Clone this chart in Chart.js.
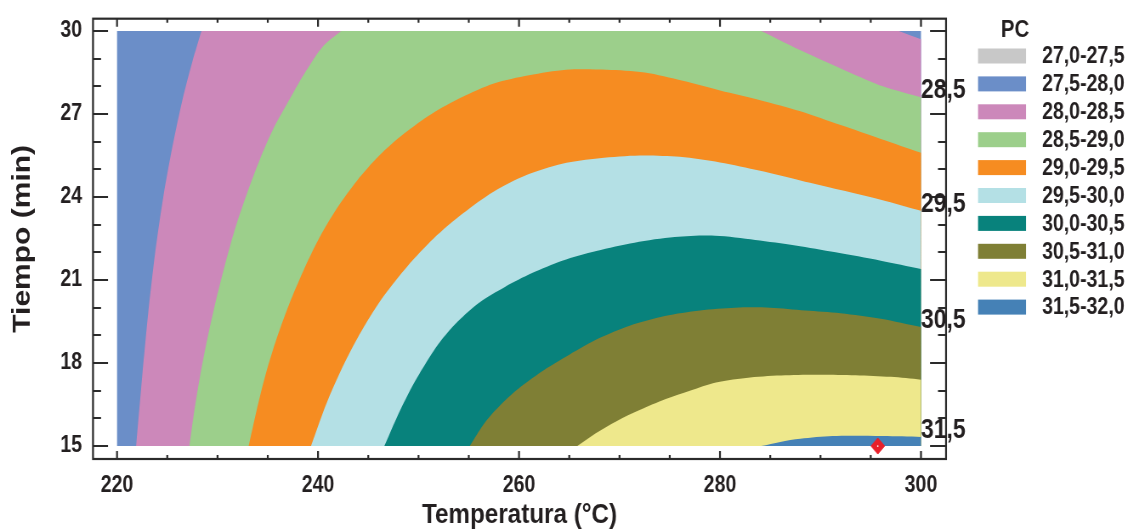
<!DOCTYPE html>
<html>
<head>
<meta charset="utf-8">
<script src="https://cdn.jsdelivr.net/npm/chart.js@4/dist/chart.umd.min.js"></script>
<style>
  html, body { margin: 0; padding: 0; background: #fff; }
  #outer { width: 1127px; height: 529px; overflow: hidden; }
  /* el original esta comprimido en horizontal */
  #wrap { width: 1326px; height: 529px; transform: scaleX(0.85); transform-origin: 0 0; }
</style>
</head>
<body>
<div id="outer"><div id="wrap"><canvas id="pcChart"></canvas></div></div>
<script>
const SX = 0.85; // compresion horizontal

// ejes
const xTicks = [220, 240, 260, 280, 300];
const yTicks = [15, 18, 21, 24, 27, 30];
const tempRange = [220, 300];
const timeRange = [15, 30];

// leyenda PC
const bandLabels = ['27,0-27,5', '27,5-28,0', '28,0-28,5', '28,5-29,0', '29,0-29,5',
                    '29,5-30,0', '30,0-30,5', '30,5-31,0', '31,0-31,5', '31,5-32,0'];
const bandColors = ['#c8c8c8', '#6b8ec8', '#cc88ba', '#9ccf8b', '#f68c21',
                    '#b4e0e5', '#08827c', '#7f7f35', '#eee88c', '#4581b6'];

// contornos [temperatura, tiempo]
const c280 = [[221.9, 15], [222.5, 17.5], [223.1, 19.8], [223.8, 22.0], [224.6, 24.0],
              [225.5, 25.8], [226.5, 27.5], [227.5, 28.9], [228.4, 30]];
const c280b = [[297.8, 30], [300, 29.7]];
const c285 = [[227.2, 15], [227.7, 16.3], [228.3, 17.6], [229.0, 18.9], [229.8, 20.2],
              [230.7, 21.5], [231.7, 22.8], [232.9, 24.1], [234.2, 25.35], [235.6, 26.5],
              [237.2, 27.55], [238.8, 28.55], [240.5, 29.45], [242.3, 30]];
const c285b = [[284.1, 30], [288.6, 29.2], [292.9, 28.5], [296.2, 28.0], [300, 27.6]];
const c290 = [[233.1, 15], [233.9, 16.3], [234.8, 17.6], [235.9, 18.9], [237.1, 20.1],
              [238.5, 21.3], [240.1, 22.5], [241.9, 23.6], [243.9, 24.6], [246.1, 25.5],
              [248.6, 26.3], [251.3, 27.0], [254.3, 27.6], [257.5, 28.1], [261, 28.4],
              [264.7, 28.6], [268.7, 28.6], [272.5, 28.5], [276.3, 28.2], [280, 27.85],
              [284, 27.5], [288, 27.1], [292, 26.6], [296, 26.1], [300, 25.6]];
const c295 = [[239.3, 15], [240.8, 16.5], [242.5, 17.9], [244.4, 19.2], [246.5, 20.4],
              [248.9, 21.5], [251.5, 22.5], [254.4, 23.4], [257.5, 24.2], [260.8, 24.8],
              [264.3, 25.2], [268, 25.4], [272, 25.5], [276, 25.45], [280, 25.25],
              [284, 24.95], [288, 24.6], [292, 24.25], [296, 23.9], [300, 23.5]];
const c300 = [[246.6, 15], [247.8, 16], [249.0, 16.9], [250.4, 17.8], [252.0, 18.7],
              [253.9, 19.5], [256.1, 20.2], [258.6, 20.75], [261.3, 21.25], [264.3, 21.7],
              [267.7, 22.05], [271.5, 22.35], [275.5, 22.55], [279.5, 22.6], [283.5, 22.45],
              [287.5, 22.25], [291.5, 22.0], [296, 21.7], [300, 21.4]];
const c305 = [[255.1, 15], [256.5, 15.8], [258.2, 16.5], [260.2, 17.15], [262.5, 17.75],
              [265, 18.3], [268, 18.9], [271, 19.35], [274.5, 19.7], [278, 19.9],
              [281.5, 20], [285, 20], [288.5, 19.9], [292, 19.8], [296, 19.6], [300, 19.3]];
const c310 = [[265.8, 15], [267.6, 15.45], [269.7, 15.9], [272, 16.3], [274.6, 16.7],
              [277, 17.0], [279.6, 17.3], [283, 17.48], [286.5, 17.56], [290, 17.58],
              [293.5, 17.56], [297, 17.5], [300, 17.4]];
const c315 = [[284.1, 15], [286, 15.15], [288, 15.26], [291.2, 15.36], [296.2, 15.36], [300, 15.33]];

// niveles: region PC >= nivel, en orden creciente
const levelLines = [[c280, c280b], [c285, c285b], [c290], [c295], [c300], [c305], [c310], [c315]];
const levelBand = [2, 3, 4, 5, 6, 7, 8, 9];

// etiquetas de contorno a la derecha
const contourLabels = ['28,5', '29,5', '30,5', '31,5'];
const contourLabelLines = [c285b, c295, c305, c315];

// punto optimo
const optTemp = 295.7;
const optTime = 15.0;

const FONT = "'Liberation Sans', Arial, sans-serif";
const INK = '#231f20';

function pt(p) { return {x: p[0], y: p[1]}; }

function regionPoints(pieces) {
    const pts = [{x: tempRange[1], y: timeRange[0]}];
    pieces.forEach(piece => {
        pts.push(pt(piece[0]));
        piece.forEach(p => pts.push(pt(p)));
        pts.push(pt(piece[piece.length - 1]));
    });
    pts.push({x: tempRange[1], y: timeRange[0]});
    return pts;
}

const datasets = [];
// marcador (arriba del todo)
datasets.push({
    data: [{x: optTemp, y: optTime}], showLine: false,
    pointStyle: 'circle', pointRadius: 0.9, pointBackgroundColor: '#ffffff', pointBorderWidth: 0
});
datasets.push({
    data: [{x: optTemp, y: optTime}], showLine: false,
    pointStyle: 'rectRot', pointRadius: 8, pointBackgroundColor: '#e8202a',
    pointBorderColor: '#e8202a', pointBorderWidth: 1
});
for (let i = levelLines.length - 1; i >= 0; i--) {
    datasets.push({
        data: regionPoints(levelLines[i]),
        backgroundColor: bandColors[levelBand[i]],
        fill: 'shape', borderWidth: 0, pointRadius: 0, tension: 0.3
    });
}
// fondo 27,5-28,0
datasets.push({
    data: [pt([tempRange[0], timeRange[0]]), pt([tempRange[0], timeRange[1]]),
           pt([tempRange[1], timeRange[1]]), pt([tempRange[1], timeRange[0]])],
    backgroundColor: bandColors[1], fill: 'shape', borderWidth: 0, pointRadius: 0, tension: 0
});

const framePlugin = {
    id: 'frameAndLegend',
    afterDraw(chart) {
        const ctx = chart.ctx;
        const a = chart.chartArea;
        const xs = chart.scales.x, ys = chart.scales.y;
        ctx.save();
        ctx.strokeStyle = '#2b2b2b';
        ctx.lineWidth = 2.2;
        ctx.strokeRect(a.left, a.top, a.right - a.left, a.bottom - a.top);
        ctx.beginPath();
        for (let v = tempRange[0]; v <= tempRange[1]; v += 5) {
            const px = xs.getPixelForValue(v);
            const len = (v - tempRange[0]) % 20 === 0 ? 8 : 4;
            ctx.moveTo(px, a.top); ctx.lineTo(px, a.top + len);
            ctx.moveTo(px, a.bottom); ctx.lineTo(px, a.bottom - len);
        }
        ctx.stroke();
        ctx.lineWidth = 2;
        ctx.beginPath();
        for (let v = timeRange[0]; v <= timeRange[1]; v += 1) {
            const py = Math.round(ys.getPixelForValue(v));
            const major = (v - timeRange[0]) % 3 === 0;
            ctx.moveTo(a.left, py); ctx.lineTo(a.left + (major ? 15 : 8) / SX, py);
            ctx.moveTo(a.right, py); ctx.lineTo(a.right - (major ? 16 : 8) / SX, py);
        }
        ctx.stroke();

        // etiquetas de contorno
        ctx.fillStyle = INK;
        ctx.font = 'bold 27px ' + FONT;
        ctx.textAlign = 'left';
        ctx.textBaseline = 'alphabetic';
        contourLabels.forEach((t, i) => {
            const line = contourLabelLines[i];
            const end = line[line.length - 1];
            ctx.fillText(t, xs.getPixelForValue(end[0]), ys.getPixelForValue(end[1]) + 1);
        });

        // leyenda
        const lx = a.right + 32 / SX;
        ctx.textAlign = 'center';
        ctx.textBaseline = 'middle';
        ctx.font = 'bold 24px ' + FONT;
        ctx.fillText('PC', lx + 37 / SX, 30);
        ctx.font = 'bold 23px ' + FONT;
        ctx.textAlign = 'left';
        bandLabels.forEach((t, i) => {
            const cy = 56 + i * 27.9;
            ctx.fillStyle = bandColors[i];
            ctx.fillRect(lx, cy - 7.5, 48 / SX, 15);
            ctx.fillStyle = INK;
            ctx.fillText(t, lx + 64 / SX, cy + 1);
        });
        ctx.restore();
    }
};

new Chart(document.getElementById('pcChart'), {
    type: 'line',
    data: {datasets: datasets},
    options: {
        responsive: true,
        maintainAspectRatio: false,
        animation: false,
        events: [],
        layout: {padding: {top: 17, right: 1326 - 946 / SX, left: 0, bottom: 0}},
        plugins: {legend: {display: false}, tooltip: {enabled: false}},
        scales: {
            x: {
                type: 'linear',
                min: 217.61, max: 302.49,
                afterBuildTicks: s => { s.ticks = xTicks.map(v => ({value: v})); },
                afterFit: s => { s.height = 70; },
                grid: {display: false, drawTicks: false},
                border: {display: false},
                ticks: {color: INK, padding: 13, font: {family: FONT, size: 23, weight: 'bold'}},
                title: {display: true, text: 'Temperatura (°C)', color: INK,
                        padding: {top: 0, bottom: 0},
                        font: {family: FONT, size: 28.5, weight: 'bold', lineHeight: 1}}
            },
            y: {
                type: 'linear',
                min: 14.532, max: 30.443,
                afterBuildTicks: s => { s.ticks = yTicks.map(v => ({value: v})); },
                afterFit: s => { s.width = 93 / SX; },
                grid: {display: false, drawTicks: false},
                border: {display: false},
                ticks: {color: INK, padding: 11 / SX,
                        font: {family: FONT, size: 23, weight: 'bold', lineHeight: 0.5}},
                title: {display: true, text: 'Tiempo (min)', color: INK,
                        padding: {top: 12, bottom: 0},
                        font: {family: FONT, size: 30, weight: 'bold', lineHeight: 1}}
            }
        }
    },
    plugins: [framePlugin]
});
</script>
</body>
</html>
